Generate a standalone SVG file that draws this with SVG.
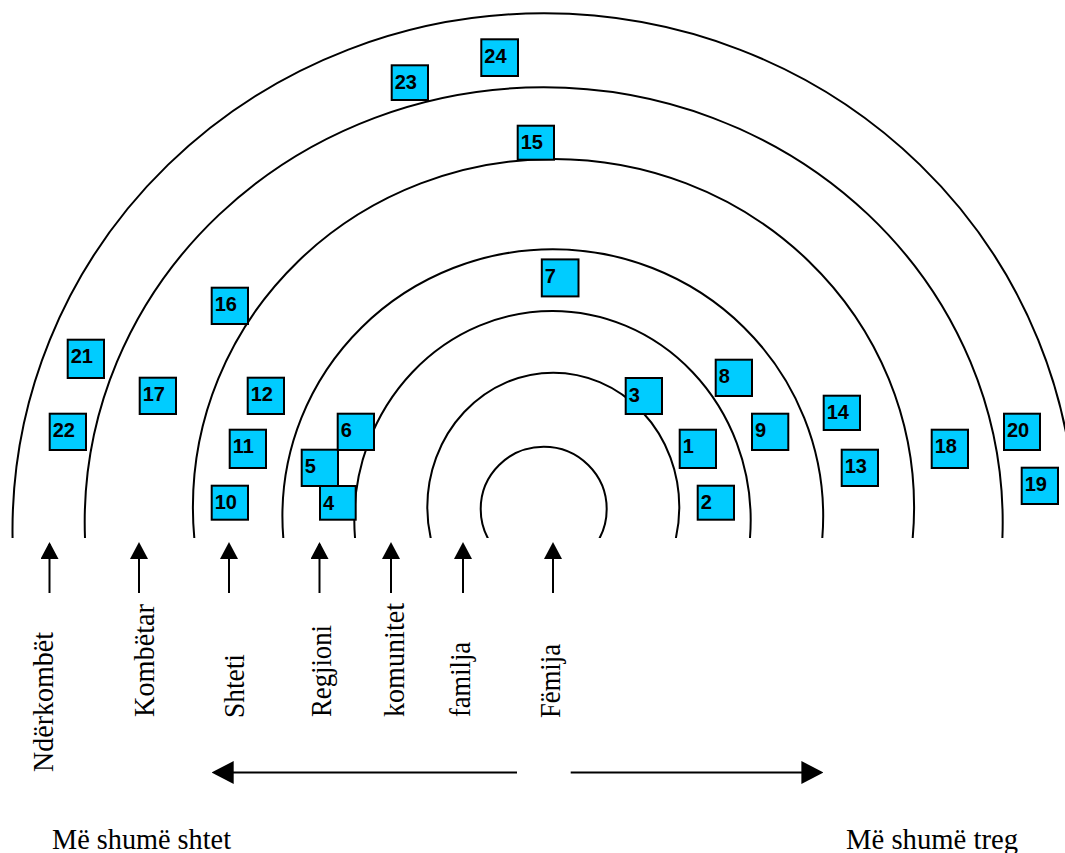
<svg xmlns="http://www.w3.org/2000/svg" width="1065" height="853" viewBox="0 0 1065 853">
<style>
.arc{fill:none;stroke:#000;stroke-width:2}
.box rect{fill:#00CCFF;stroke:#000;stroke-width:2}
.box text{font-family:"Liberation Sans",Arial,sans-serif;font-weight:bold;font-size:20px;fill:#000}
.lbl{font-family:"Liberation Serif","Times New Roman",serif;font-size:30px;fill:#000}
.conn line{stroke:#000;stroke-width:2}
</style>
<defs>
<clipPath id="clipBase"><rect x="0" y="0" width="1065" height="538"/></clipPath>
<marker id="ahv" markerUnits="userSpaceOnUse" viewBox="0 0 17 18" markerWidth="17" markerHeight="18" refX="15" refY="9" orient="auto"><path d="M0,0 L17,9 L0,18 z" fill="#000"/></marker>
<marker id="ahh" markerUnits="userSpaceOnUse" viewBox="0 0 22 23" markerWidth="22" markerHeight="23" refX="19" refY="11.5" orient="auto"><path d="M0,0 L22,11.5 L0,23 z" fill="#000"/></marker>
</defs>
<rect width="1065" height="853" fill="#fff"/>
<g id="arcs" clip-path="url(#clipBase)">
<ellipse class="arc" cx="543.7" cy="509" rx="63" ry="62.3"/>
<ellipse class="arc" cx="553.3" cy="507" rx="126" ry="134.3"/>
<ellipse class="arc" cx="552.5" cy="520" rx="198.2" ry="209"/>
<ellipse class="arc" cx="552.8" cy="516" rx="270.4" ry="266.7"/>
<ellipse class="arc" cx="553.5" cy="507" rx="360.6" ry="348"/>
<ellipse class="arc" cx="543.7" cy="522" rx="459" ry="434.7"/>
<ellipse class="arc" cx="544" cy="530" rx="531.5" ry="516.7"/>
</g>
<g id="connectors" class="conn">
<line x1="49.5" y1="593" x2="49.5" y2="544" marker-end="url(#ahv)"/>
<line x1="139" y1="593" x2="139" y2="544" marker-end="url(#ahv)"/>
<line x1="229" y1="593" x2="229" y2="544" marker-end="url(#ahv)"/>
<line x1="319.5" y1="593" x2="319.5" y2="544" marker-end="url(#ahv)"/>
<line x1="391" y1="593" x2="391" y2="544" marker-end="url(#ahv)"/>
<line x1="463" y1="593" x2="463" y2="544" marker-end="url(#ahv)"/>
<line x1="553" y1="593" x2="553" y2="544" marker-end="url(#ahv)"/>
<line x1="517" y1="772.5" x2="214.7" y2="772.5" marker-end="url(#ahh)"/>
<line x1="570.7" y1="772.5" x2="820.4" y2="772.5" marker-end="url(#ahh)"/>
</g>
<g id="n1" class="box"><rect x="679.7" y="429.7" width="36.3" height="38.3"/><text x="682.7" y="453.4">1</text></g>
<g id="n2" class="box"><rect x="697.7" y="485.7" width="36.3" height="34"/><text x="700.7" y="509.4">2</text></g>
<g id="n3" class="box"><rect x="625.7" y="378" width="36.3" height="36"/><text x="628.7" y="401.7">3</text></g>
<g id="n4" class="box"><rect x="320" y="486" width="35.7" height="33.7"/><text x="323" y="509.7">4</text></g>
<g id="n5" class="box"><rect x="301.7" y="449.7" width="36.3" height="36.3"/><text x="304.7" y="473.4">5</text></g>
<g id="n6" class="box"><rect x="337.7" y="413.7" width="36.3" height="36.3"/><text x="340.7" y="437.4">6</text></g>
<g id="n7" class="box"><rect x="541.8" y="259.4" width="36.7" height="37"/><text x="544.8" y="283.1">7</text></g>
<g id="n8" class="box"><rect x="715.7" y="359.7" width="36.3" height="36.3"/><text x="718.7" y="383.4">8</text></g>
<g id="n9" class="box"><rect x="752" y="413.7" width="36.3" height="36.3"/><text x="755" y="437.4">9</text></g>
<g id="n10" class="box"><rect x="211.7" y="485.7" width="36.3" height="34"/><text x="214.7" y="509.4">10</text></g>
<g id="n11" class="box"><rect x="229.7" y="429.7" width="36.3" height="38.3"/><text x="232.7" y="453.4">11</text></g>
<g id="n12" class="box"><rect x="247.7" y="377.7" width="36.3" height="36.3"/><text x="250.7" y="401.4">12</text></g>
<g id="n13" class="box"><rect x="841.7" y="449.7" width="36.3" height="36.3"/><text x="844.7" y="473.4">13</text></g>
<g id="n14" class="box"><rect x="823.7" y="395.7" width="36.3" height="34.3"/><text x="826.7" y="419.4">14</text></g>
<g id="n15" class="box"><rect x="517.7" y="125.7" width="36.3" height="34"/><text x="520.7" y="149.4">15</text></g>
<g id="n16" class="box"><rect x="211.7" y="287.7" width="36.3" height="36.3"/><text x="214.7" y="311.4">16</text></g>
<g id="n17" class="box"><rect x="139.7" y="377.7" width="36.3" height="36.3"/><text x="142.7" y="401.4">17</text></g>
<g id="n18" class="box"><rect x="931.7" y="429.7" width="36.3" height="38.3"/><text x="934.7" y="453.4">18</text></g>
<g id="n19" class="box"><rect x="1021.7" y="467.7" width="36.3" height="36.3"/><text x="1024.7" y="491.4">19</text></g>
<g id="n20" class="box"><rect x="1004" y="413.7" width="36" height="36.3"/><text x="1007" y="437.4">20</text></g>
<g id="n21" class="box"><rect x="67.7" y="339.7" width="36.3" height="38.3"/><text x="70.7" y="363.4">21</text></g>
<g id="n22" class="box"><rect x="49.7" y="413.7" width="36.3" height="36.3"/><text x="52.7" y="437.4">22</text></g>
<g id="n23" class="box"><rect x="391.7" y="65.3" width="36.3" height="34.7"/><text x="394.7" y="89">23</text></g>
<g id="n24" class="box"><rect x="481.3" y="39.3" width="36.7" height="36.7"/><text x="484.3" y="63">24</text></g>
<g id="labels">
<text class="lbl" transform="translate(53,772) rotate(-90)" textLength="140" lengthAdjust="spacingAndGlyphs">Ndërkombët</text>
<text class="lbl" transform="translate(154,717) rotate(-90)" textLength="113" lengthAdjust="spacingAndGlyphs">Kombëtar</text>
<text class="lbl" transform="translate(244,718) rotate(-90)" textLength="64" lengthAdjust="spacingAndGlyphs">Shteti</text>
<text class="lbl" transform="translate(331,717) rotate(-90)" textLength="92" lengthAdjust="spacingAndGlyphs">Regjioni</text>
<text class="lbl" transform="translate(404,717) rotate(-90)" textLength="114" lengthAdjust="spacingAndGlyphs">komunitet</text>
<text class="lbl" transform="translate(470,717) rotate(-90)" textLength="75" lengthAdjust="spacingAndGlyphs">familja</text>
<text class="lbl" transform="translate(560,718) rotate(-90)" textLength="74" lengthAdjust="spacingAndGlyphs">Fëmija</text>
<text class="lbl" x="52" y="849" textLength="179" lengthAdjust="spacingAndGlyphs">Më shumë shtet</text>
<text class="lbl" x="846" y="849" textLength="172" lengthAdjust="spacingAndGlyphs">Më shumë treg</text>
</g>
</svg>
